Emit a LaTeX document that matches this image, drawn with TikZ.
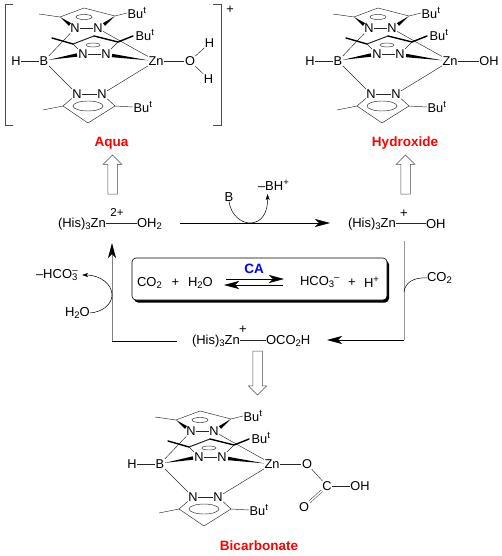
\documentclass[tikz,border=0pt]{standalone}
\usepackage{fontspec}
\setmainfont{Liberation Sans}
\usetikzlibrary{arrows.meta,calc,shadows,shapes.arrows}
\newcommand{\wedgeto}[2]{\fill ($(#1)!1.7pt!90:(#2)$) -- ($(#1)!1.7pt!-90:(#2)$) -- (#2) -- cycle;}
\newcommand{\subs}[1]{\raisebox{-2.5pt}{\fontsize{9.5}{10}\selectfont #1}}
\newcommand{\sups}[1]{\raisebox{5pt}{\fontsize{9.5}{10}\selectfont #1}}
\newcommand{\butyl}{Bu\sups{t}}
\tikzset{
  atom/.style={inner sep=0.6pt, outer sep=0pt, font=\fontsize{12.8}{15}\selectfont},
  lbl/.style={inner sep=0pt, outer sep=0pt, font=\fontsize{13}{15}\selectfont},
  name lbl/.style={inner sep=0pt, font=\fontsize{13.5}{15}\selectfont\bfseries, text=red},
  bond/.style={line width=0.45pt, black!85},
  boldbond/.style={line width=1.4pt, line cap=round, line join=round},
  bigtip/.style={-{Stealth[length=15pt,width=8pt,inset=4pt,color=black]}, line width=0.6pt},
  smalltip/.style={-{Stealth[length=6pt,width=4pt,inset=1.5pt]}, line width=0.5pt},
  openarrow/.style={draw=black!70, line width=0.5pt, single arrow, inner xsep=0pt, inner ysep=0pt, outer sep=0pt, minimum width=18pt, single arrow head extend=4.5pt, single arrow tip angle=90, anchor=tip}
}
\begin{document}
\begin{tikzpicture}[x=1pt,y=-1pt]
\useasboundingbox (0,0) rectangle (502,556);
% the three tris(pyrazolyl)borate complexes
\foreach \m/\mx/\my in {a/0/0, h/294/0, c/116/403} {
\begin{scope}[shift={(\mx,\my)}]
  \node[atom] (\m H) at (16,61) {H};
  \node[atom] (\m B) at (44,61) {B};
  \node[atom] (\m Zn) at (156,61) {Zn};
  \node[atom] (\m Na) at (75,28.5) {N};
  \node[atom] (\m Nb) at (98,28.5) {N};
  \node[atom] (\m Nc) at (83,54) {N};
  \node[atom] (\m Nd) at (106,54) {N};
  \node[atom] (\m Ne) at (77,94) {N};
  \node[atom] (\m Nf) at (102,94) {N};
  \node[atom,anchor=west] (\m Bua) at (127,13) {\butyl};
  \node[atom,anchor=west] (\m Bub) at (135,35) {\butyl};
  \node[atom,anchor=west] (\m Buc) at (133,107) {\butyl};
  \coordinate (\m a1) at (39,14); \coordinate (\m a2) at (60,17); \coordinate (\m a3) at (84,8); \coordinate (\m a4) at (115,16);
  \coordinate (\m b1) at (52,38); \coordinate (\m b2) at (73,44); \coordinate (\m b3) at (94,36); \coordinate (\m b4) at (118,42);
  \coordinate (\m c1) at (43,110); \coordinate (\m c2) at (63,106); \coordinate (\m c3) at (88,123); \coordinate (\m c4) at (115,106);
  \coordinate (\m wa) at (70,24.5); \coordinate (\m wb) at (104,24.5); \coordinate (\m wc) at (77,55); \coordinate (\m wd) at (112,55.5);
  \draw[bond] (\m H) -- (\m B);
  \draw[bond] (\m a1) -- (\m a2) -- (\m a3) -- (\m a4) -- (\m Bua.west);
  \draw[bond] (\m Na) -- (\m Nb);
  \draw[bond] (\m Nc) -- (\m Nd);
  \draw[bond] (\m Ne) -- (\m Nf);
  \draw[bond] (\m Na) -- (\m B);
  \draw[bond] (\m Nb) -- (\m Zn);
  \draw[bond] (\m Ne) -- (\m B);
  \draw[bond] (\m Nf) -- (\m Zn);
  \draw[bond] (\m b2) -- (\m Nc);
  \draw[bond] (\m b4) -- (\m Nd);
  \draw[bond] (\m c1) -- (\m c2) -- (\m c3) -- (\m c4) -- (\m Buc.west);
  \draw[bond] (\m c2) -- (\m Ne);
  \draw[bond] (\m c4) -- (\m Nf);
  \draw[boldbond] (\m b1) -- (\m b2);
  \draw[boldbond] (\m b3) -- (\m b4) -- ($(\m Bub.west)+(-2,1)$);
  \draw[bond,line width=1pt] (\m b2) -- (\m b3);
  \wedgeto{\m wa}{\m a2}
  \wedgeto{\m wb}{\m a4}
  \wedgeto{\m wc}{\m B}
  \wedgeto{\m wd}{\m Zn}
  \draw[bond] (84,17) ellipse (8 and 2.5);
  \draw[bond] (93,45) ellipse (7 and 2);
  \draw[bond] (88,106) ellipse (15 and 5);
\end{scope}
}
% aqua ligand and brackets
\node[atom] (aO) at (190,61) {O};
\node[atom] (aHa) at (209.5,43) {H};
\node[atom] (aHb) at (208.5,79) {H};
\draw[bond] (aZn) -- (aO);
\draw[bond] (aO) -- (aHa);
\draw[bond] (aO) -- (aHb);
\draw[bond,black!70] (13,4) -- (5,4) -- (5,125.5) -- (13,125.5);
\draw[bond,black!70] (213,4) -- (221,4) -- (221,125.5) -- (213,125.5);
\node[atom] (aplus) at (230,10) {+};
\node[name lbl] (aname) at (111.5,143) {Aqua};
% hydroxide ligand
\node[atom] (hOH) at (489,61) {OH};
\draw[bond] (hZn) -- (hOH);
\node[name lbl] (hname) at (405,143) {Hydroxide};
% bicarbonate ligand
\node[atom] (cO) at (307,464) {O};
\node[atom] (cC) at (327,486) {C};
\node[atom] (cOH) at (360,486) {OH};
\node[atom] (cOb) at (304,507) {O};
\draw[bond] (cZn) -- (cO);
\draw[bond] (cO) -- (cC);
\draw[bond] (cC) -- (cOH);
\draw[bond,double,double distance=1.6pt] (cC) -- (cOb);
\node[name lbl] (cname) at (259,546) {Bicarbonate};
% hollow arrows
\node[openarrow,rotate=90,minimum height=39pt] (auparrow) at (112.5,155) {\rule{0pt}{9pt}};
\node[openarrow,rotate=90,minimum height=39pt] (huparrow) at (405.5,155) {\rule{0pt}{9pt}};
\node[openarrow,rotate=-90,minimum height=44pt] (cdownarrow) at (257.5,395) {\rule{0pt}{9pt}};
% cycle
\node[lbl,anchor=west] (aHis) at (58,224) {(His)\subs{3}Zn};
\node[lbl] (aq) at (117,212) {\fontsize{11.5}{13}\selectfont 2+};
\node[lbl,anchor=west] (aOH) at (137,224) {OH\subs{2}};
\draw[bond] (aHis.east |- 0,223) -- (aOH.west |- 0,223);
\node[lbl,anchor=west] (hHis) at (348,224) {(His)\subs{3}Zn};
\node[lbl] (hq) at (404,214) {+};
\node[lbl,anchor=west] (hOHb) at (426,224) {OH};
\draw[bond] (hHis.east |- 0,223) -- (hOHb.west |- 0,223);
\node[lbl,anchor=west] (cHis) at (192,341) {(His)\subs{3}Zn};
\node[lbl] (cq) at (243,330) {+};
\node[lbl,anchor=west] (cOCO) at (266,341) {OCO\subs{2}H};
\draw[bond] (cHis.east |- 0,340) -- (cOCO.west |- 0,340);
\coordinate (mainS) at (180,223); \coordinate (mainE) at (330,223); \coordinate (mainM) at (250,223);
\coordinate (rtop) at (404,241); \coordinate (rcor) at (404,340); \coordinate (bend) at (327,340);
\coordinate (lbeg) at (177,341); \coordinate (lcor) at (112,341); \coordinate (ltop) at (112,243);
\draw[bigtip] (mainS) -- (mainE);
\draw[line width=1pt,black!40] (rtop) -- (rcor);
\draw[bigtip] (rcor) -- (bend);
\draw[line width=0.6pt] (lbeg) -- (lcor);
\draw[bigtip,line width=1pt,black!50] (lcor) -- (ltop);
% reagents
\node[lbl] (Bbase) at (229,197) {B};
\node[lbl,anchor=west] (BHp) at (258,185) {--BH\sups{+}};
\draw[smalltip] (Bbase.south) .. controls (231,216) and (242,223) .. (mainM) .. controls (262,223) and (268,212) .. (267.5,194);
\node[lbl,anchor=west] (cotwo) at (427,278) {CO\subs{2}};
\coordinate (cojoin) at (404,292);
\draw[line width=0.5pt] (cotwo.west) .. controls (413,277) and (405,283) .. (cojoin);
\node[lbl,anchor=west] (hco) at (36,275) {--HCO\subs{3}\hspace{-5pt}\sups{--}};
\node[lbl,anchor=west] (wat) at (65,313) {H\subs{2}O};
\coordinate (wjoin) at (112,295);
\draw[line width=0.5pt] (wat.east) .. controls (103,312) and (112,304) .. (wjoin);
\draw[smalltip] (wjoin) .. controls (112,284) and (100,275) .. (82,275);
% equilibrium box
\node[draw, rounded corners=4pt, fill=white, line width=0.6pt, minimum width=255pt, minimum height=42pt, inner sep=0pt, general shadow={fill=black, shadow xshift=2pt, shadow yshift=-2.5pt}] (eqbox) at (259.5,279) {};
\node[lbl,anchor=west] (eco) at (137,283) {CO\subs{2}};
\node[lbl] (eplusa) at (175.5,283) {+};
\node[lbl,anchor=west] (ewat) at (188,283) {H\subs{2}O};
\node[lbl,anchor=west] (ehco) at (300,282) {HCO\subs{3}\sups{--}};
\node[lbl] (eplusb) at (352,283) {+};
\node[lbl,anchor=west] (eh) at (364,282) {H\sups{+}};
\node[name lbl,text=blue] (ecat) at (254,269) {CA};
\coordinate (ea) at (226,279); \coordinate (eb) at (284,279); \coordinate (ec) at (283,285); \coordinate (ed) at (224,285);
\draw[bigtip] (ea) -- (eb);
\draw[bigtip] (ec) -- (ed);
\end{tikzpicture}
\end{document}
